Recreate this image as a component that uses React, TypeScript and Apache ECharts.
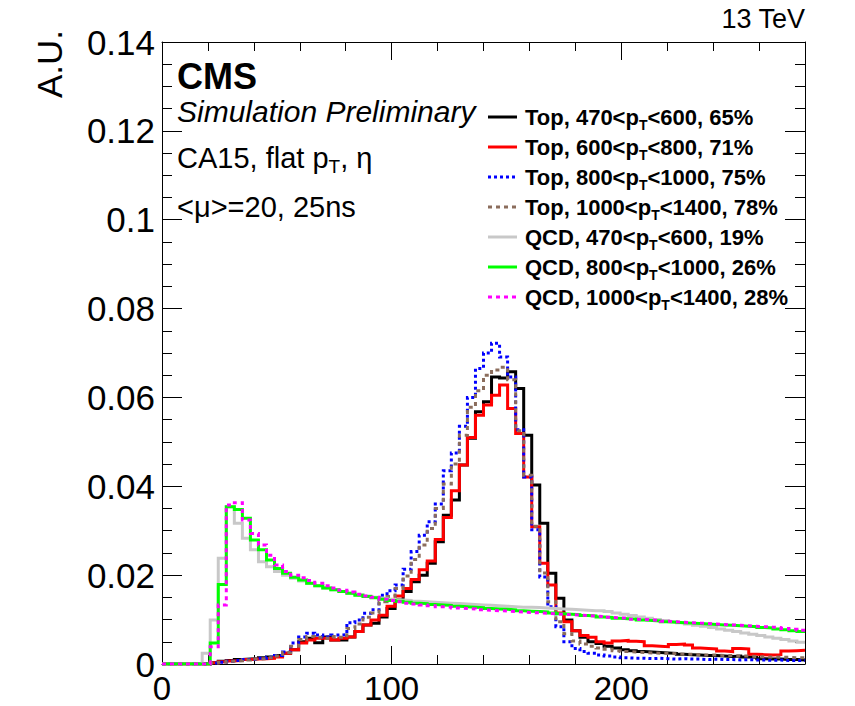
import React, { useEffect, useRef } from 'react';
import * as echarts from 'echarts';

const FONT = '"Liberation Sans", Arial, Helvetica, sans-serif';

// Histogram binning (x axis in GeV)
const BIN_WIDTH = 3.5;
const X_MIN = 0;
const X_MAX = 280;
const Y_MIN = 0;
const Y_MAX = 0.14;
const X_LABEL_STEP = 100;
const X_MINOR_STEP = 20;
const Y_STEP = 0.02;

const SERIES_NAMES = [
  'Top, 470<p_T<600, 65%',
  'Top, 600<p_T<800, 71%',
  'Top, 800<p_T<1000, 75%',
  'Top, 1000<p_T<1400, 78%',
  'QCD, 470<p_T<600, 19%',
  'QCD, 800<p_T<1000, 26%',
  'QCD, 1000<p_T<1400, 28%',
];

const TOP_470_600 = [
  0, 0, 0, 0, 0, 0, 0.0003, 0.0006, 0.0008, 0.0010,
  0.0011, 0.0012, 0.0014, 0.0016, 0.0019,
  0.0024, 0.0032, 0.0050, 0.0058, 0.0048,
  0.0061, 0.0054, 0.0054, 0.0061, 0.0073,
  0.0088, 0.0092, 0.0106, 0.0125, 0.0144,
  0.0163, 0.0185, 0.0200, 0.0227, 0.0275,
  0.0335, 0.0369, 0.0448, 0.0508, 0.0568,
  0.0590, 0.0646, 0.0644, 0.0658, 0.0620,
  0.0515, 0.0403, 0.0317, 0.0204, 0.0148,
  0.0099, 0.0075, 0.0060, 0.0050, 0.0046,
  0.0040, 0.0036, 0.0032, 0.0030, 0.0028,
  0.0027, 0.0026, 0.0025, 0.0024, 0.0022,
  0.0021, 0.0020, 0.0019, 0.0019, 0.0018,
  0.0017, 0.0018, 0.0016, 0.0015, 0.0012,
  0.0011, 0.0011, 0.0010, 0.0010, 0.0009,
];

const TOP_600_800 = [
  0, 0, 0, 0, 0, 0, 0.0003, 0.0005, 0.0007, 0.0008,
  0.0010, 0.0011, 0.0012, 0.0013, 0.0016,
  0.0024, 0.0032, 0.0047, 0.0054, 0.0058,
  0.0058, 0.0054, 0.0058, 0.0061, 0.0073,
  0.0088, 0.0099, 0.0110, 0.0130, 0.0153,
  0.0170, 0.0190, 0.0212, 0.0232, 0.0280,
  0.0330, 0.0390, 0.0448, 0.0510, 0.0560,
  0.0583, 0.0605, 0.0628, 0.0575, 0.0519,
  0.0421, 0.0309, 0.0227, 0.0178, 0.0115,
  0.0095, 0.0075, 0.0064, 0.0060, 0.0050,
  0.0047, 0.0052, 0.0053, 0.0051, 0.0050,
  0.0041, 0.0040, 0.0039, 0.0044, 0.0045,
  0.0043, 0.0036, 0.0035, 0.0034, 0.0029,
  0.0028, 0.0035, 0.0034, 0.0022, 0.0021,
  0.0020, 0.0021, 0.0029, 0.0030, 0.0031,
];

const TOP_800_1000 = [
  0, 0, 0, 0, 0, 0, 0.0002, 0.0004, 0.0006, 0.0008,
  0.0010, 0.0011, 0.0013, 0.0015, 0.0019,
  0.0027, 0.0047, 0.0061, 0.0069, 0.0065,
  0.0061, 0.0065, 0.0066, 0.0093, 0.0099,
  0.0114, 0.0122, 0.0155, 0.0165, 0.0178,
  0.0213, 0.0253, 0.0290, 0.0320, 0.0360,
  0.0435, 0.0475, 0.0535, 0.0600, 0.0665,
  0.0700, 0.0722, 0.0691, 0.0646, 0.0527,
  0.0421, 0.0302, 0.0196, 0.0129, 0.0084,
  0.0050, 0.0035, 0.0028, 0.0024, 0.0020,
  0.0018, 0.0016, 0.0014, 0.0013, 0.0013,
  0.0012, 0.0013, 0.0012, 0.0011, 0.0012,
  0.0011, 0.0011, 0.0010, 0.0011, 0.0010,
  0.0010, 0.0009, 0.0010, 0.0009, 0.0009,
  0.0008, 0.0009, 0.0008, 0.0008, 0.0008,
];

const TOP_1000_1400 = [
  0, 0, 0, 0, 0, 0, 0.0002, 0.0004, 0.0006, 0.0007,
  0.0009, 0.0011, 0.0012, 0.0014, 0.0018,
  0.0026, 0.0040, 0.0055, 0.0062, 0.0060,
  0.0058, 0.0062, 0.0060, 0.0080, 0.0090,
  0.0105, 0.0115, 0.0140, 0.0152, 0.0170,
  0.0198, 0.0235, 0.0268, 0.0305, 0.0350,
  0.0405, 0.0450, 0.0515, 0.0578, 0.0615,
  0.0650, 0.0662, 0.0668, 0.0640, 0.0525,
  0.0425, 0.0310, 0.0205, 0.0140, 0.0095,
  0.0068, 0.0052, 0.0045, 0.0040, 0.0036,
  0.0033, 0.0030, 0.0028, 0.0027, 0.0026,
  0.0025, 0.0024, 0.0024, 0.0023, 0.0022,
  0.0022, 0.0021, 0.0020, 0.0020, 0.0019,
  0.0019, 0.0018, 0.0018, 0.0017, 0.0016,
  0.0016, 0.0015, 0.0015, 0.0014, 0.0014,
];

const QCD_470_600 = [
  0, 0, 0, 0, 0, 0.0024, 0.0099, 0.0238, 0.0354, 0.0317,
  0.0283, 0.0257, 0.0230, 0.0219, 0.0208,
  0.0200, 0.0193, 0.0187, 0.0181, 0.0176,
  0.0171, 0.0167, 0.0163, 0.0159, 0.0156,
  0.0153, 0.0150, 0.0148, 0.0146, 0.0144,
  0.0143, 0.0141, 0.0140, 0.0139, 0.0138,
  0.0137, 0.0136, 0.0135, 0.0134, 0.0133,
  0.0132, 0.0131, 0.0130, 0.0129, 0.0128,
  0.0128, 0.0127, 0.0126, 0.0125, 0.0124,
  0.0123, 0.0122, 0.0121, 0.0120, 0.0120,
  0.0118, 0.0115, 0.0112, 0.0109, 0.0106,
  0.0103, 0.0100, 0.0098, 0.0095, 0.0093,
  0.0090, 0.0087, 0.0085, 0.0082, 0.0079,
  0.0076, 0.0073, 0.0070, 0.0067, 0.0064,
  0.0061, 0.0058, 0.0055, 0.0052, 0.0049,
];

const QCD_800_1000 = [
  0, 0, 0, 0, 0, 0, 0.0047, 0.0179, 0.0354, 0.0348,
  0.0328, 0.0279, 0.0257, 0.0234, 0.0215,
  0.0204, 0.0195, 0.0189, 0.0182, 0.0176,
  0.0171, 0.0167, 0.0163, 0.0159, 0.0155,
  0.0152, 0.0149, 0.0146, 0.0143, 0.0141,
  0.0139, 0.0137, 0.0136, 0.0134, 0.0133,
  0.0132, 0.0130, 0.0129, 0.0128, 0.0127,
  0.0125, 0.0124, 0.0123, 0.0122, 0.0120,
  0.0119, 0.0118, 0.0117, 0.0115, 0.0113,
  0.0112, 0.0111, 0.0109, 0.0108, 0.0106,
  0.0105, 0.0103, 0.0102, 0.0101, 0.0099,
  0.0098, 0.0097, 0.0095, 0.0094, 0.0093,
  0.0092, 0.0091, 0.0090, 0.0089, 0.0088,
  0.0087, 0.0086, 0.0085, 0.0084, 0.0082,
  0.0081, 0.0079, 0.0077, 0.0075, 0.0073,
];

const QCD_1000_1400 = [
  0, 0, 0, 0, 0, 0, 0.0039, 0.0133, 0.0358, 0.0363,
  0.0324, 0.0294, 0.0268, 0.0245, 0.0223,
  0.0208, 0.0200, 0.0194, 0.0188, 0.0182,
  0.0176, 0.0171, 0.0166, 0.0162, 0.0157,
  0.0153, 0.0150, 0.0146, 0.0143, 0.0140,
  0.0137, 0.0135, 0.0133, 0.0131, 0.0129,
  0.0128, 0.0126, 0.0125, 0.0124, 0.0122,
  0.0121, 0.0120, 0.0119, 0.0118, 0.0117,
  0.0116, 0.0115, 0.0114, 0.0113, 0.0112,
  0.0111, 0.0110, 0.0109, 0.0108, 0.0107,
  0.0105, 0.0104, 0.0103, 0.0101, 0.0100,
  0.0099, 0.0098, 0.0096, 0.0095, 0.0094,
  0.0093, 0.0092, 0.0091, 0.0090, 0.0089,
  0.0088, 0.0087, 0.0086, 0.0085, 0.0084,
  0.0083, 0.0082, 0.0080, 0.0078, 0.0076,
];

const SERIES_VALUES = [
  TOP_470_600, TOP_600_800, TOP_800_1000, TOP_1000_1400,
  QCD_470_600, QCD_800_1000, QCD_1000_1400,
];

const SERIES_COLORS = ['#000000', '#ff0000', '#0000ff', '#8b6d5c', '#c8c8c8', '#00ff00', '#ff00ff'];
const SERIES_DASH: (number[] | null)[] = [null, null, [3, 3], [4, 4], null, null, [4, 4]];

function histData(values: number[]) {
  const pts = values.map((v, i) => [X_MIN + i * BIN_WIDTH, v]);
  pts.push([X_MIN + values.length * BIN_WIDTH, values[values.length - 1]]);
  return pts;
}

function richSub(label: string) {
  const parts = label.split('p_T');
  return `{a|${parts[0]}p}{s|T}{a|${parts[1]}}`;
}

function buildOption() {
  const legendRich = {
    a: { fontFamily: FONT, fontSize: 22, fontWeight: 'bold', lineHeight: 30, fill: '#000' },
    s: { fontFamily: FONT, fontSize: 14, fontWeight: 'bold', lineHeight: 4, verticalAlign: 'bottom', fill: '#000' },
  };
  const textRich = {
    a: { fontFamily: FONT, fontSize: 29, lineHeight: 36, fill: '#000' },
    s: { fontFamily: FONT, fontSize: 19, lineHeight: 2, verticalAlign: 'bottom', fill: '#000' },
  };

  const legendEls: any[] = [];
  SERIES_NAMES.forEach((name, i) => {
    const y = 117 + i * 30;
    legendEls.push({
      type: 'line',
      silent: true,
      shape: { x1: 488, y1: y, x2: 517, y2: y },
      style: { stroke: SERIES_COLORS[i], lineWidth: 3, lineDash: SERIES_DASH[i] || null },
    });
    legendEls.push({
      type: 'text',
      silent: true,
      x: 525,
      y,
      style: {
        text: richSub(name),
        rich: legendRich,
        fill: '#000',
        align: 'left',
        verticalAlign: 'middle',
      },
    });
  });

  const axisTickStyle = { color: '#000', width: 1 };
  const mkX = (position: 'top' | 'bottom', major: boolean) => ({
    type: 'value',
    position,
    min: X_MIN,
    max: X_MAX,
    interval: major ? X_LABEL_STEP : X_MINOR_STEP,
    axisLine: { show: major, onZero: false, lineStyle: { color: '#000', width: 1 } },
    axisTick: { show: true, inside: true, length: major ? 18 : 9, lineStyle: axisTickStyle },
    axisLabel: {
      show: major && position === 'bottom',
      fontFamily: FONT,
      fontSize: 33,
      lineHeight: 28,
      color: '#000',
      margin: 10,
      formatter: (v: number) => (v % X_LABEL_STEP === 0 ? String(v) : ''),
    },
    splitLine: { show: false },
  });
  const mkY = (position: 'left' | 'right') => ({
    type: 'value',
    position,
    min: Y_MIN,
    max: Y_MAX,
    interval: Y_STEP,
    axisLine: { show: true, onZero: false, lineStyle: { color: '#000', width: 1 } },
    axisTick: { show: true, inside: true, length: 20, lineStyle: axisTickStyle },
    minorTick: { show: true, splitNumber: 4, length: 10, lineStyle: axisTickStyle },
    axisLabel: {
      show: position === 'left',
      fontFamily: FONT,
      fontSize: 35,
      color: '#000',
      margin: 7,
      formatter: (v: number) => String(parseFloat(v.toFixed(3))),
    },
    splitLine: { show: false },
    minorSplitLine: { show: false },
  });

  return {
    animation: false,
    backgroundColor: '#ffffff',
    grid: { left: 162, top: 42, right: 50, bottom: 42, containLabel: false },
    xAxis: [mkX('bottom', true), mkX('bottom', false), mkX('top', true), mkX('top', false)],
    yAxis: [mkY('left'), mkY('right')],
    series: SERIES_VALUES.map((vals, i) => ({
      name: SERIES_NAMES[i],
      type: 'line',
      xAxisIndex: 0,
      yAxisIndex: 0,
      step: 'end',
      symbol: 'none',
      silent: true,
      clip: true,
      data: histData(vals),
      lineStyle: {
        color: SERIES_COLORS[i],
        width: 3,
        type: SERIES_DASH[i] || 'solid',
        cap: 'butt',
        join: 'miter',
      },
      itemStyle: { color: SERIES_COLORS[i] },
      emphasis: { disabled: true },
    })),
    graphic: [
      {
        type: 'text',
        silent: true,
        x: 49,
        y: 30,
        rotation: Math.PI / 2,
        style: { text: 'A.U.', fontFamily: FONT, fontSize: 35, fill: '#000', align: 'right', verticalAlign: 'middle' },
      },
      {
        type: 'text',
        silent: true,
        x: 805,
        y: 19,
        style: { text: '13 TeV', fontFamily: FONT, fontSize: 27, fill: '#000', align: 'right', verticalAlign: 'middle' },
      },
      {
        type: 'text',
        silent: true,
        x: 177,
        y: 76,
        style: { text: 'CMS', fontFamily: FONT, fontSize: 36, fontWeight: 'bold', fill: '#000', align: 'left', verticalAlign: 'middle' },
      },
      {
        type: 'text',
        silent: true,
        x: 177,
        y: 111,
        style: {
          text: 'Simulation Preliminary',
          fontFamily: FONT,
          fontSize: 30,
          fontStyle: 'italic',
          fill: '#000',
          align: 'left',
          verticalAlign: 'middle',
        },
      },
      {
        type: 'text',
        silent: true,
        x: 177,
        y: 158,
        style: {
          text: '{a|CA15, flat p}{s|T}{a|, η}',
          rich: textRich,
          fill: '#000',
          align: 'left',
          verticalAlign: 'middle',
        },
      },
      {
        type: 'text',
        silent: true,
        x: 177,
        y: 207,
        style: { text: '<μ>=20, 25ns', fontFamily: FONT, fontSize: 29, fill: '#000', align: 'left', verticalAlign: 'middle' },
      },
      ...legendEls,
    ],
  };
}

export default function App() {
  const ref = useRef<HTMLDivElement>(null);
  useEffect(() => {
    if (!ref.current) return;
    const chart = echarts.init(ref.current, null, { renderer: 'svg' });
    chart.setOption(buildOption() as any);
    return () => chart.dispose();
  }, []);
  return (
    <div
      ref={ref}
      style={{ position: 'fixed', left: 0, top: 0, width: 855, height: 706, background: '#fff' }}
    />
  );
}
